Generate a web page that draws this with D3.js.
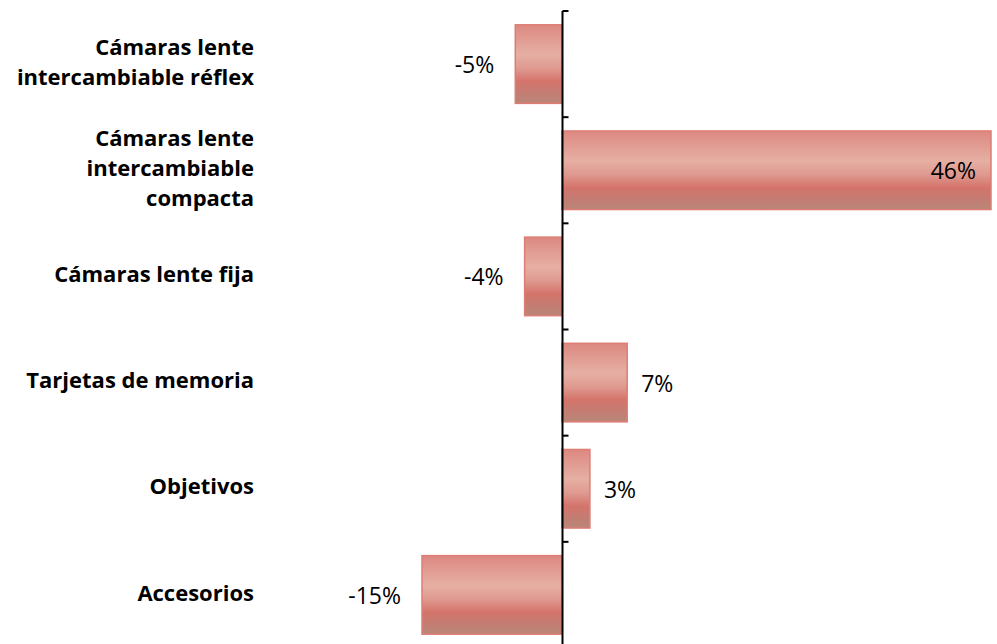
<!DOCTYPE html>
<html>
<head>
<meta charset="utf-8">
<script src="https://cdn.jsdelivr.net/npm/d3@7"></script>
<style>
  html, body { margin: 0; padding: 0; background: #fff; }
  svg { display: block; }
</style>
</head>
<body>
<svg id="chart" width="997" height="644"></svg>
<script>
const categories = [
  "Cámaras lente intercambiable réflex",
  "Cámaras lente intercambiable compacta",
  "Cámaras lente fija",
  "Tarjetas de memoria",
  "Objetivos",
  "Accesorios"
];
const labelLines = [
  ["Cámaras lente", "intercambiable réflex"],
  ["Cámaras lente", "intercambiable", "compacta"],
  ["Cámaras lente fija"],
  ["Tarjetas de memoria"],
  ["Objetivos"],
  ["Accesorios"]
];
const values = [-5, 46, -4, 7, 3, -15];
const valueLabels = ["-5%", "46%", "-4%", "7%", "3%", "-15%"];

const svg = d3.select("#chart");

const x = d3.scaleLinear().domain([-15, 46]).range([422, 991]);
const y = d3.scaleBand().domain(categories).range([11, 648]).paddingInner(0).paddingOuter(0);
const bw = y.bandwidth();
const inset = bw * 0.13;
const barH = bw - 2 * inset;

const defs = svg.append("defs");
const grad = defs.append("linearGradient").attr("id", "barGrad")
  .attr("x1", 0).attr("y1", 0).attr("x2", 0).attr("y2", 1);
[
  [0, "#dc8880"], [0.15, "#e0988f"], [0.38, "#e6afa3"], [0.55, "#df9a90"],
  [0.72, "#d4746b"], [0.86, "#c47c72"], [1, "#b98678"]
].forEach(([o, c]) => grad.append("stop").attr("offset", o).attr("stop-color", c));

const data = categories.map((c, i) => ({ c, v: values[i], lab: valueLabels[i], lines: labelLines[i] }));

// bars
svg.append("g").selectAll("rect").data(data).join("rect")
  .attr("x", d => x(Math.min(0, d.v)))
  .attr("y", d => y(d.c) + inset)
  .attr("width", d => Math.abs(x(d.v) - x(0)))
  .attr("height", barH)
  .attr("fill", "url(#barGrad)")
  .attr("stroke", "#de7d75")
  .attr("stroke-width", 1.5);

// axis line and ticks
const ax = svg.append("g");
const x0 = Math.round(x(0)) + 0.5;
ax.append("line").attr("x1", x0).attr("x2", x0).attr("y1", y.range()[0]).attr("y2", y.range()[1])
  .attr("stroke", "#000").attr("stroke-width", 2);
const tickYs = categories.map(c => y(c)).concat([y.range()[1]]);
ax.selectAll("line.tick").data(tickYs).join("line").attr("class", "tick")
  .attr("x1", x0).attr("x2", x0 + 6)
  .attr("y1", d => d).attr("y2", d => d)
  .attr("stroke", "#000").attr("stroke-width", 2);

// category labels
const lineH = 30;
const catG = svg.append("g")
  .attr("font-family", "'Open Sans', sans-serif")
  .attr("font-weight", "bold")
  .attr("font-size", 22)
  .attr("fill", "#000")
  .attr("text-anchor", "end");
data.forEach(d => {
  const cy = y(d.c) + bw / 2 - 2;
  const n = d.lines.length;
  const t = catG.append("text").attr("x", 254);
  d.lines.forEach((ln, k) => {
    t.append("tspan").attr("x", 254)
      .attr("y", cy + (k - (n - 1) / 2) * lineH)
      .attr("dy", "0.35em")
      .text(ln);
  });
});

// value labels
svg.append("g")
  .attr("font-family", "'Open Sans', sans-serif")
  .attr("font-size", 23)
  .attr("fill", "#000")
  .selectAll("text").data(data).join("text")
  .attr("x", d => {
    if (d.v < 0) return x(d.v) - 21;
    if (d.v > 40) return x(d.v) - 15;
    return x(d.v) + 14;
  })
  .attr("y", d => y(d.c) + bw / 2 + 1)
  .attr("dy", "0.35em")
  .attr("text-anchor", d => (d.v < 0 || d.v > 40) ? "end" : "start")
  .text(d => d.lab);
</script>
</body>
</html>
